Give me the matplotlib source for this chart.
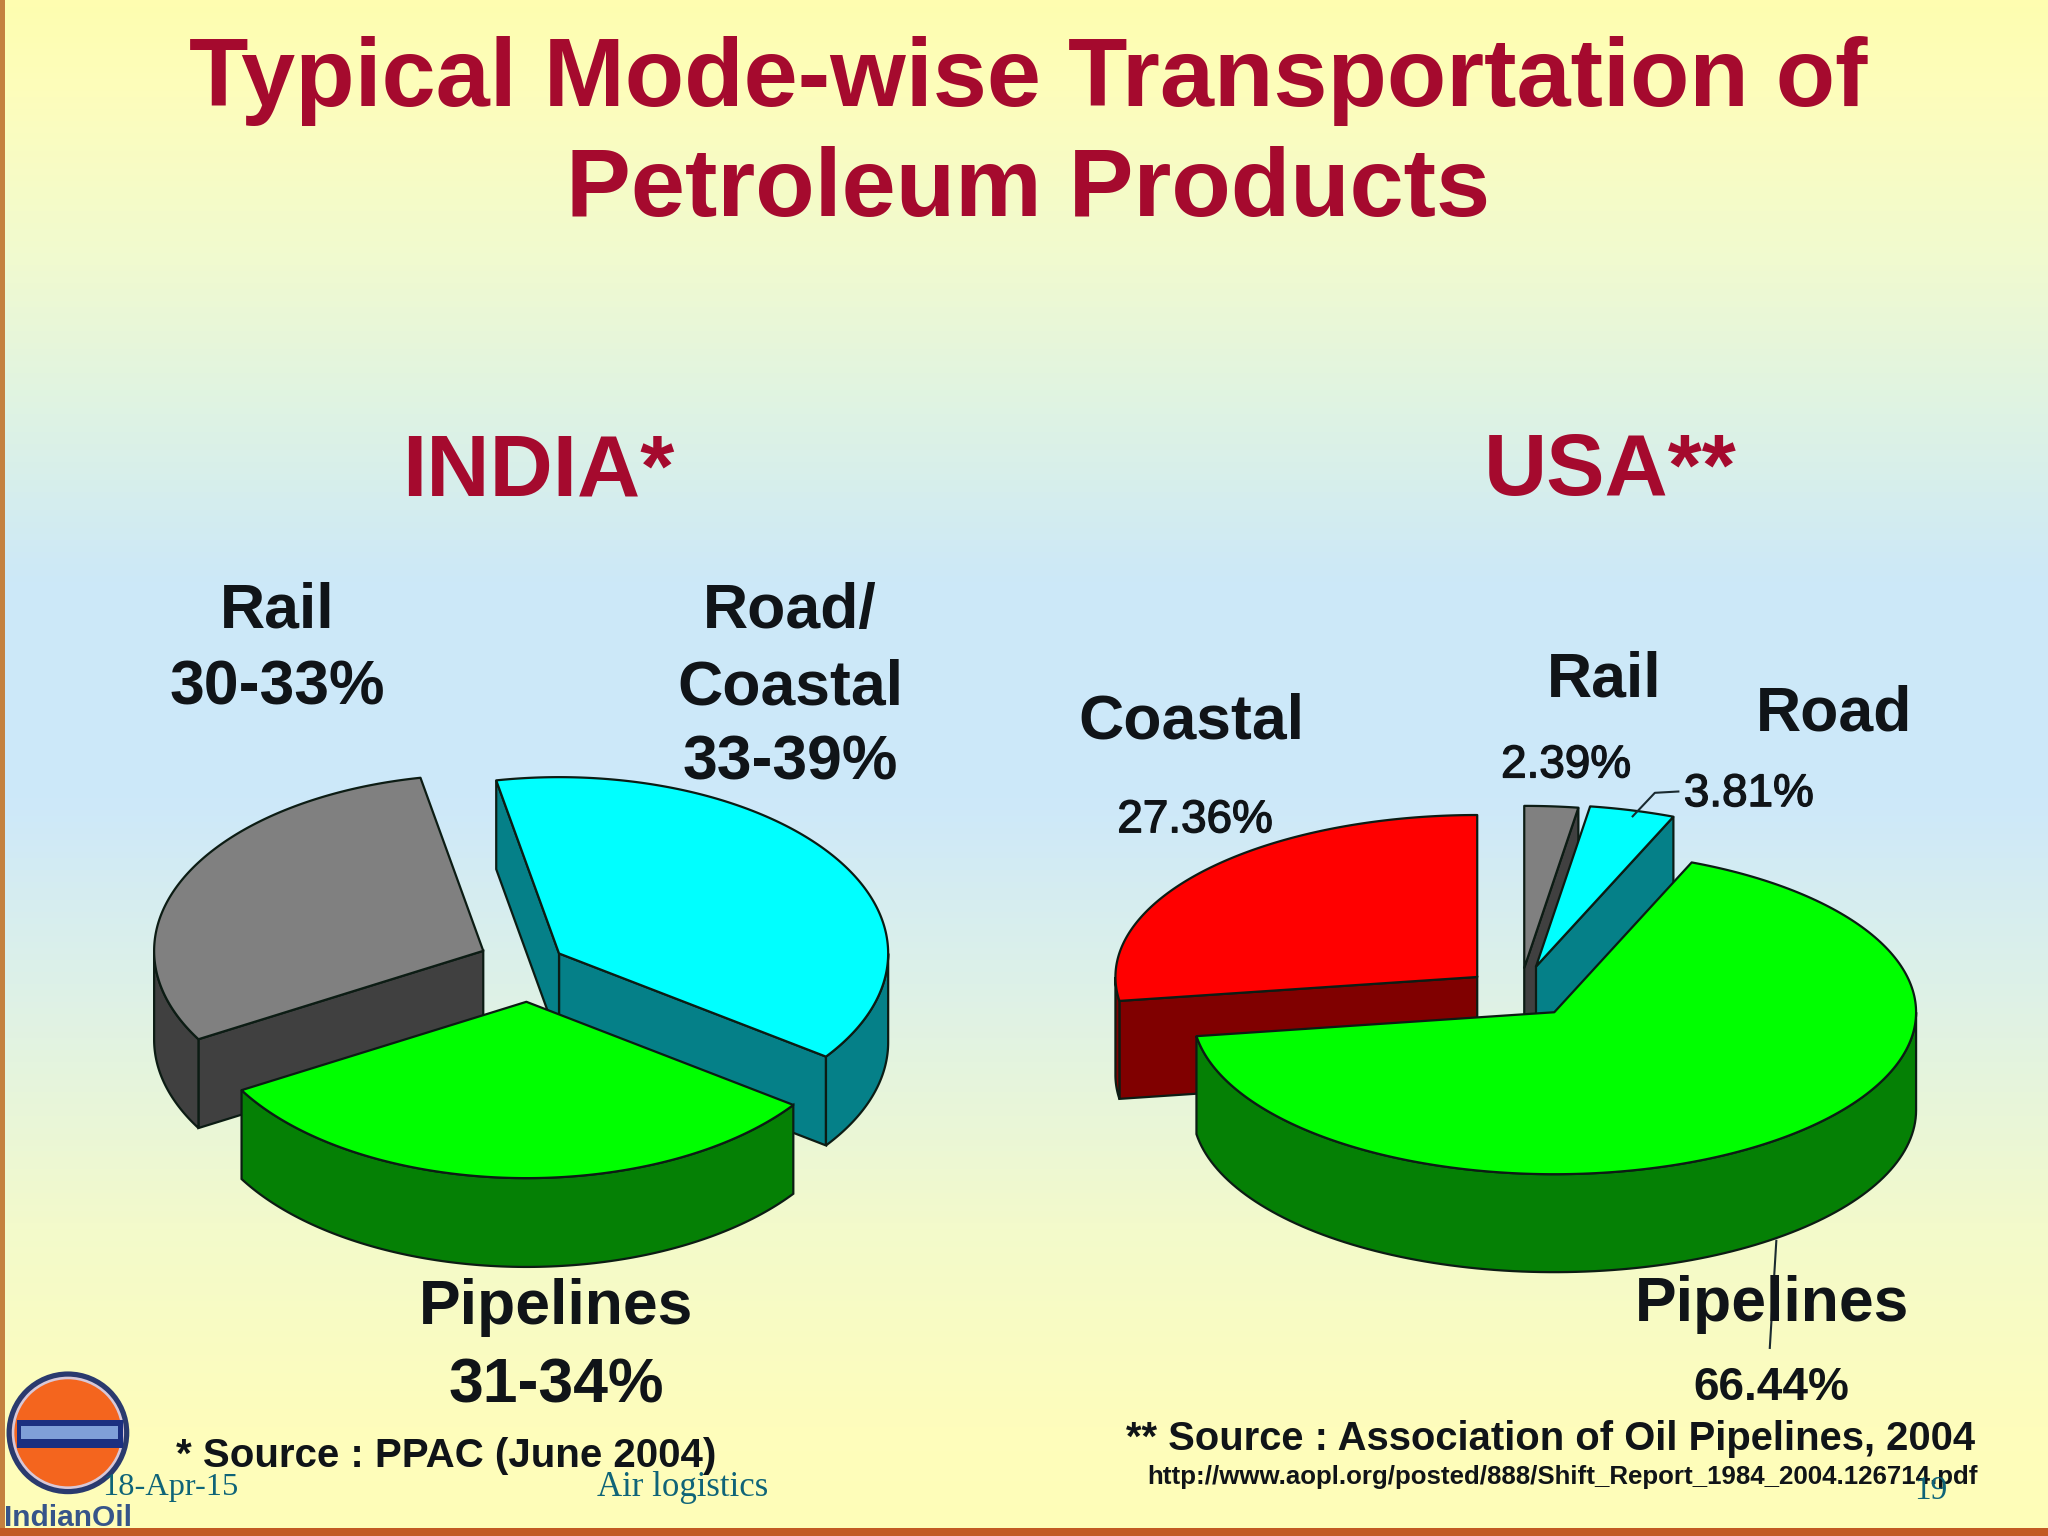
import numpy as np
import matplotlib
matplotlib.use("Agg")
import matplotlib.pyplot as plt
import matplotlib.patheffects as pe
from matplotlib.patches import Polygon, Circle, Rectangle
from matplotlib.colors import LinearSegmentedColormap

# ---- data ----
india_labels = ["Road/Coastal", "Pipelines", "Rail"]
india_values = [38.0, 31.7, 30.3]
usa_labels = ["Rail", "Road", "Pipelines", "Coastal"]
usa_values = [2.39, 3.81, 66.44, 27.36]

# ---- style / layout ----
W, H = 1568, 1176
TOP = {"gray": "#808080", "cyan": "#00FFFF", "green": "#00FF00", "red": "#FF0000"}
SIDE = {"gray": "#404040", "cyan": "#058088", "green": "#058005", "red": "#800000"}
india_colors = ["cyan", "green", "gray"]
india_apex = [(428, 730), (403, 767), (370, 728)]
india_order = [2, 0, 1]
usa_colors = ["gray", "cyan", "green", "red"]
usa_apex = [(1167, 741), (1176, 740), (1190, 775), (1131, 748)]
usa_order = [3, 0, 1, 2]
EDGE = "#0c1c14"

fig = plt.figure(figsize=(20.48, 15.36), dpi=100)
ax = fig.add_axes([0, 0, 1, 1])

grad = LinearSegmentedColormap.from_list("bg", [
    (0.00, "#FEFDB0"), (0.06, "#FDFDBC"), (0.17, "#F0FAD0"), (0.27, "#DEF3E4"),
    (0.38, "#CCE8F8"), (0.52, "#CDE8FA"), (0.64, "#DDF1E8"), (0.80, "#F3FACB"),
    (0.93, "#FEFDBC"), (1.00, "#FFFDB8")])
ax.imshow(np.linspace(0, 1, 512)[:, None], cmap=grad, aspect="auto",
          extent=(0, W, H, 0), vmin=0, vmax=1, zorder=0)
ax.set_xlim(0, W)
ax.set_ylim(H, 0)
ax.axis("off")
ax.add_patch(Rectangle((0, 0), 4, H, fc="#C4813F", ec="none", zorder=1))
ax.add_patch(Rectangle((0, 1170), W, 6, fc="#C25A22", ec="none", zorder=1))


def pie3d(values, colors, apexes, order, start, a, b, depth):
    fr = np.asarray(values, float) / np.sum(values) * 360.0
    edges = start - np.concatenate([[0], np.cumsum(fr)])
    z = 5
    for i in order:
        t_hi, t_lo = edges[i], edges[i + 1]
        cx, cy = apexes[i]
        top, side = TOP[colors[i]], SIDE[colors[i]]

        def pt(t, dy=0.0):
            r = np.radians(t)
            return cx + a * np.cos(r), cy - b * np.sin(r) + dy

        # radial walls turned to the viewer
        if np.sin(np.radians(t_lo - 90)) < 0:
            p = pt(t_lo)
            ax.add_patch(Polygon([(cx, cy), p, (p[0], p[1] + depth), (cx, cy + depth)],
                                 fc=side, ec=EDGE, lw=1.6, zorder=z))
        if np.sin(np.radians(t_hi + 90)) < 0:
            p = pt(t_hi)
            ax.add_patch(Polygon([(cx, cy), p, (p[0], p[1] + depth), (cx, cy + depth)],
                                 fc=side, ec=EDGE, lw=1.6, zorder=z))
        # outer wall, lower half of the ellipse only
        for lo, hi in [(-180, 0), (180, 360), (540, 720)]:
            l, h = max(lo, t_lo), min(hi, t_hi)
            if h > l:
                ts = np.linspace(l, h, 120)
                upper = [pt(t) for t in ts]
                lower = [pt(t, depth) for t in ts[::-1]]
                ax.add_patch(Polygon(upper + lower, fc=side, ec=EDGE, lw=1.6, zorder=z))
        ts = np.linspace(t_lo, t_hi, 240)
        ax.add_patch(Polygon([(cx, cy)] + [pt(t) for t in ts], fc=top, ec=EDGE,
                             lw=1.6, joinstyle="round", zorder=z + 0.5))
        z += 1


pie3d(india_values, india_colors, india_apex, india_order, 101, 252, 135, 68)
pie3d(usa_values, usa_colors, usa_apex, usa_order, 90, 277, 124, 75)

# leader lines
ax.plot([1250, 1267, 1285], [625, 607, 606], color="#1a2a30", lw=1.5, zorder=20)
ax.plot([1360, 1355], [950, 1032], color="#1a2a30", lw=1.5, zorder=20)

# ---- text ----
TITLE = "#A50A2E"
INK = "#101418"


def T(x, y, s, size, color=INK, weight="bold", family="Liberation Sans", ha="center", stroke=0):
    t = ax.text(x, y, s, fontsize=size, color=color, fontweight=weight, family=family,
                ha=ha, va="center", zorder=30)
    if stroke:
        t.set_path_effects([pe.withStroke(linewidth=stroke, foreground=color)])


T(787, 62, "Typical Mode-wise Transportation of", 70, TITLE)
T(787, 146, "Petroleum Products", 70, TITLE)
T(412, 362, "INDIA*", 63, TITLE)
T(1233, 362, "USA**", 63, TITLE)

T(212, 468, "Rail", 45)
T(212, 527, "30-33%", 45)
T(605, 468, "Road/", 45)
T(605, 527, "Coastal", 45)
T(605, 584, "33-39%", 45)
T(426, 1001, "Pipelines", 45)
T(426, 1061, "31-34%", 45)
T(912, 553, "Coastal", 45)
T(915, 628, "27.36%", 33, weight="normal", stroke=1.0)
T(1228, 521, "Rail", 45)
T(1199, 586, "2.39%", 33, weight="normal", stroke=1.0)
T(1404, 547, "Road", 45)
T(1339, 608, "3.81%", 33, weight="normal", stroke=1.0)
T(1357, 999, "Pipelines", 45)
T(1356, 1063, "66.44%", 33)

T(135, 1115, "* Source : PPAC (June 2004)", 29, ha="left")
T(862, 1102, "** Source : Association of Oil Pipelines, 2004", 28.85, ha="left")
T(878, 1131, "http://www.aopl.org/posted/888/Shift_Report_1984_2004.126714.pdf", 18.6, ha="left")

FOOT = "#0F6478"
T(78, 1139, "18-Apr-15", 23.3, FOOT, "normal", "Liberation Serif", "left")
T(523, 1139, "Air logistics", 25, FOOT, "normal", "Liberation Serif")
T(1478, 1141, "19", 24, FOOT, "normal", "Liberation Serif")

# logo
ax.add_patch(Circle((52, 1097), 47, fc="#2A3A6E", ec="none", zorder=25))
ax.add_patch(Circle((52, 1097), 43, fc="#D8C8D8", ec="none", zorder=25.1))
ax.add_patch(Circle((52, 1097), 41, fc="#F4651E", ec="none", zorder=25.2))
ax.add_patch(Rectangle((13, 1087), 81, 22, fc="#1B2F80", ec="none", zorder=25.3))
ax.add_patch(Rectangle((16, 1092), 74, 10, fc="#7F9FD8", ec="none", zorder=25.4))
T(52, 1162, "IndianOil", 21.5, "#36558A")

fig.savefig("out.png", dpi=100)
